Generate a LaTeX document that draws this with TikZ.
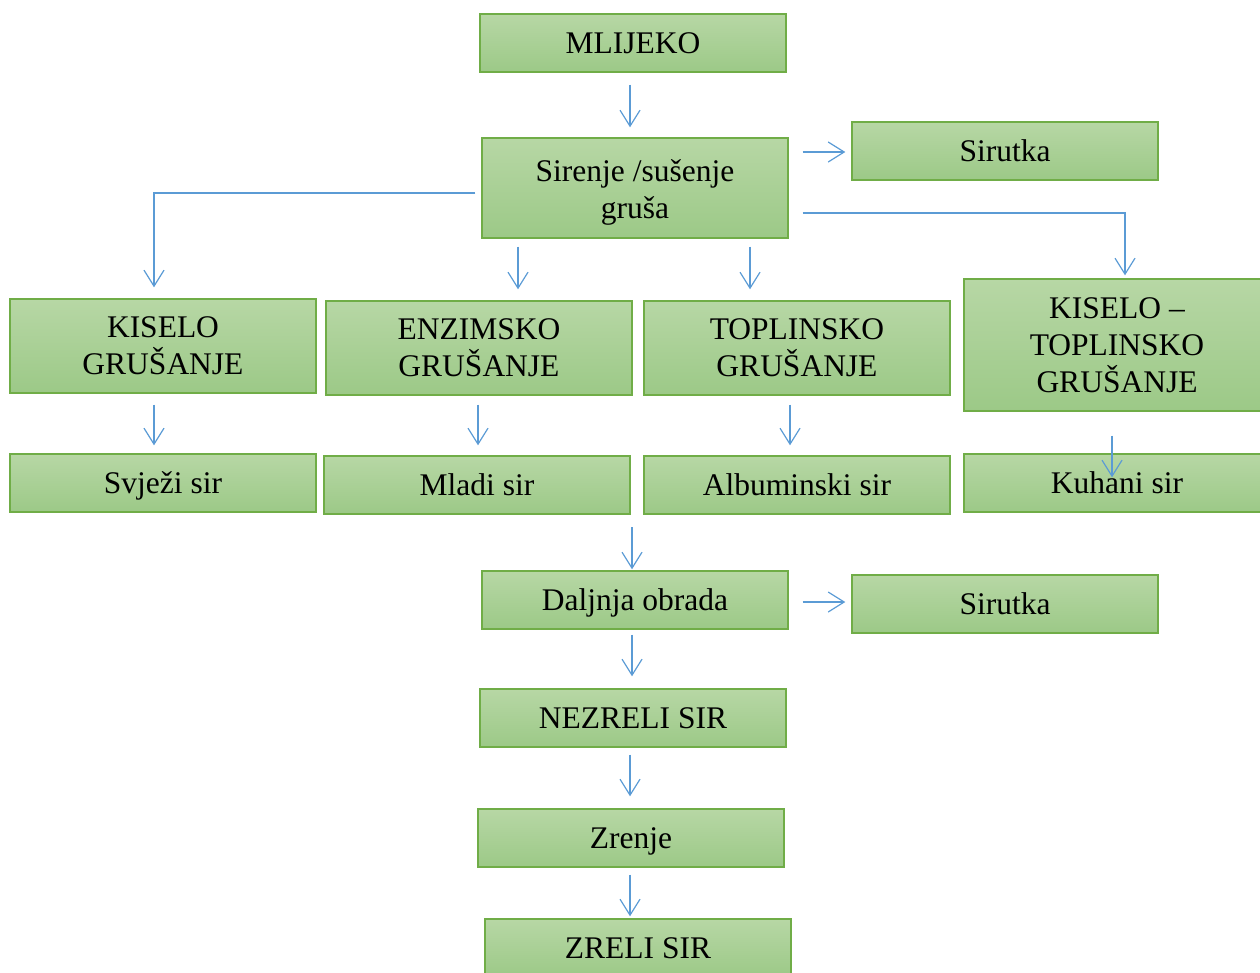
\documentclass[tikz,border=0pt]{standalone}
\usepackage{fontspec}
\setmainfont{Liberation Serif}
\usetikzlibrary{arrows.meta,calc}
\definecolor{bordergreen}{HTML}{70AD47}
\definecolor{topgreen}{HTML}{B7D7A5}
\definecolor{botgreen}{HTML}{9CC987}
\definecolor{arrowblue}{HTML}{5B9BD5}
\tikzset{
  box/.style={draw=bordergreen, line width=1.4pt, top color=topgreen, bottom color=botgreen,
    minimum width=306pt, minimum height=58pt, inner sep=0pt, align=center,
    font=\fontsize{31.5}{37}\selectfont},
  one/.style={box, text height=23pt, text depth=2pt},
  arr/.style={draw=arrowblue, line width=1.2pt, -{Straight Barb[length=16pt,width=20pt,line width=1.2pt]}}
}
\begin{document}
\begin{tikzpicture}[x=1pt,y=-1pt]
\useasboundingbox (0,0) rectangle (1260,972);
\node[one] (m) at (633,43) {MLIJEKO};
\node[box,minimum height=100pt] (s) at (635,188) {\rule{0pt}{30pt}Sirenje /sušenje\\gruša};
\node[one] (w1) at (1005,151) {Sirutka};
\node[box,minimum height=94pt] (k) at (163,346) {KISELO\\GRUŠANJE};
\node[box,minimum height=94pt] (e) at (479,348) {ENZIMSKO\\GRUŠANJE};
\node[box,minimum height=94pt] (t) at (797,348) {TOPLINSKO\\GRUŠANJE};
\node[box,minimum height=132pt] (kt) at (1117,345) {KISELO –\\TOPLINSKO\\GRUŠANJE};
\node[one] (sv) at (163,483) {Svježi sir};
\node[one] (ml) at (477,485) {Mladi sir};
\node[one] (al) at (797,485) {Albuminski sir};
\node[one] (ku) at (1117,483) {Kuhani sir};
\node[one] (d) at (635,600) {Daljnja obrada};
\node[one] (w2) at (1005,604) {Sirutka};
\node[one] (n) at (633,718) {NEZRELI SIR};
\node[one] (z) at (631,838) {Zrenje};
\node[one] (zr) at (638,948) {ZRELI SIR};
\coordinate (dIn) at (632,527);
% connectors
\draw[arr] ($(m.south)+(-3,12)$) -- ($(s.north)+(-5,-10)$);
\draw[arr] ($(s.east)+(14,-36)$) -- ($(w1.west)+(-6,1)$);
\draw[arr] ($(s.east)+(14,25)$) -| ($(kt.north)+(8,-3)$);
\draw[arr] ($(s.west)+(-6,5)$) -| ($(k.north)+(-9,-11)$);
\draw[arr] ($(s.south)+(-117,8)$) -- ($(e.north)+(39,-11)$);
\draw[arr] ($(s.south)+(115,8)$) -- ($(t.north)+(-47,-11)$);
\draw[arr] ($(k.south)+(-9,11)$) -- ($(sv.north)+(-9,-8)$);
\draw[arr] ($(e.south)+(-1,9)$) -- ($(ml.north)+(1,-10)$);
\draw[arr] ($(t.south)+(-7,9)$) -- ($(al.north)+(-7,-10)$);
\draw[arr] ($(kt.south)+(-5,24)$) -- ($(ku.north)+(-5,24)$);
\draw[arr] (dIn) -- ($(d.north)+(-3,-1)$);
\draw[arr] ($(d.east)+(14,2)$) -- ($(w2.west)+(-6,-2)$);
\draw[arr] ($(d.south)+(-3,5)$) -- ($(n.north)+(-1,-12)$);
\draw[arr] ($(n.south)+(-3,7)$) -- ($(z.north)+(-1,-12)$);
\draw[arr] ($(z.south)+(-1,7)$) -- ($(zr.north)+(-8,-2)$);
\end{tikzpicture}
\end{document}
